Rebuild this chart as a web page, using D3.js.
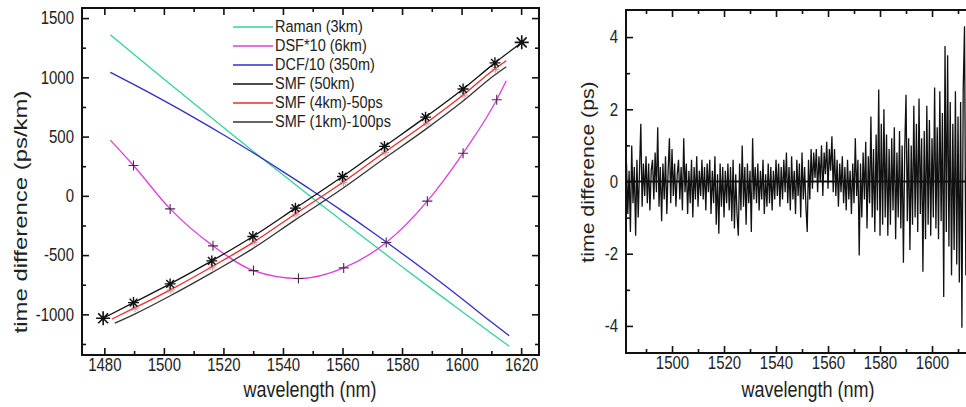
<!DOCTYPE html>
<html>
<head>
<meta charset="utf-8">
<script src="https://cdn.jsdelivr.net/npm/d3@7"></script>
<style>
  body { margin: 0; background: #fff; }
  svg { display: block; font-family: Arial, "Liberation Sans", sans-serif; }
</style>
</head>
<body>
<svg id="chart" width="966" height="407"></svg>
<script>
// ---- left panel data ----
var ramanWl = [1482, 1490, 1500, 1510, 1520, 1530, 1540, 1550, 1560, 1570, 1580, 1590, 1600, 1610, 1616];
var raman   = [1360, 1193, 986, 781, 578, 376, 177, -20, -214, -407, -598, -787, -974, -1159, -1269];

var dcfWl = [1482, 1490, 1500, 1510, 1520, 1530, 1540, 1550, 1560, 1570, 1580, 1590, 1600, 1610, 1616];
var dcf   = [1042, 938, 803, 662, 515, 363, 204, 41, -129, -305, -486, -673, -866, -1065, -1180];

var dsfWl = [1482, 1489.8, 1502.1, 1516.5, 1530.1, 1545.2, 1560.4, 1574.7, 1588.5, 1600.5, 1611.8, 1615];
var dsf   = [470, 256, -110, -422, -631, -698, -608, -394, -45, 360, 811, 971];
var dsfMarkWl = [1489.8, 1502.1, 1516.5, 1530.1, 1545.2, 1560.4, 1574.7, 1588.5, 1600.5, 1611.8];
var dsfMark   = [256, -110, -422, -631, -698, -608, -394, -45, 360, 811];

var smf50Wl = [1479.6, 1489.8, 1502.1, 1516.1, 1529.9, 1544.2, 1560.0, 1574.1, 1587.9, 1600.5, 1611.2, 1620.2];
var smf50   = [-1033, -901, -743, -549, -343, -104, 163, 417, 664, 901, 1122, 1295];

var smf4Wl = [1482.5, 1490, 1502, 1516, 1530, 1544, 1560, 1574, 1588, 1600.5, 1611, 1615];
var smf4   = [-1040, -948, -795, -600, -393, -155, 112, 365, 613, 850, 1068, 1140];

var smf1Wl = [1483.5, 1490, 1502, 1516, 1530, 1544, 1560, 1574, 1588, 1600.5, 1611, 1615];
var smf1   = [-1075, -1000, -845, -650, -443, -205, 62, 315, 563, 800, 1018, 1090];

var legendNames  = ['Raman (3km)', 'DSF*10 (6km)', 'DCF/10 (350m)', 'SMF (50km)', 'SMF (4km)-50ps', 'SMF (1km)-100ps'];
var legendColors = ['#35d29a', '#dd3fdd', '#2f2fcc', '#111', '#ee2b2b', '#333'];

var leftXTicks = [1480, 1500, 1520, 1540, 1560, 1580, 1600, 1620];
var leftYTicks = [-1000, -500, 0, 500, 1000, 1500];

// ---- right panel data: residual trace, every 0.5 nm from 1482.5 nm ----
var resStart = 1482.5, resStep = 0.5;
var residual = [
  0.5, -0.9, 0.3, -1.4, 1.0, -0.6, 0.4, -1.5, 0.6, -1.0, 0.3, 1.6, -0.7, 0.5, -0.4, 0.7, -0.6, 0.5, -0.8, 0.3,
  0.6, -0.5, 0.8, -0.3, 1.5, -0.7, 0.4, -1.1, 0.5, -0.5, 0.7, -0.9, 0.3, 1.2, -0.6, 0.9, -0.4, 0.5, -0.7, 0.2,
  0.6, -0.5, 0.4, -0.8, 1.2, -0.3, 0.5, -0.9, 0.3, -0.6, 0.6, -1.0, 0.4, -0.5, 0.7, -0.7, 0.3, -0.4, 0.6, -0.5,
  0.4, -0.8, 0.5, -0.3, 0.6, -0.9, 0.3, -0.6, 0.7, -1.2, 0.2, -1.45, 0.5, -0.7, 0.4, -1.0, 0.3, -0.6, 0.5, -0.8,
  0.4, -1.1, 0.6, -1.3, 0.2, -0.9, -1.5, 0.5, -0.8, 1.0, -0.7, 0.4, -1.2, 0.5, -0.6, 0.3, -1.4, 1.2, -0.5, 0.4,
  -0.6, 0.5, -0.8, 0.3, -0.5, 0.6, -0.9, 0.2, -0.7, 0.5, -0.6, 0.4, -0.8, 0.3, -0.5, 0.6, -0.4, 0.5, -0.7, 0.4,
  -0.5, 0.6, -0.3, 0.8, -0.6, 0.4, -0.8, 0.7, -0.5, 0.3, -0.9, 0.6, -0.4, 0.5, -1.0, 0.8, -0.5, 0.4, -0.7, -1.4,
  0.6, -0.5, 0.9, -0.2, 0.8, 0.1, 0.9, -0.3, 0.7, 0.0, 1.0, -0.4, 0.8, 0.2, 1.1, -0.2, 0.9, 0.3, 1.25, -0.3,
  0.9, -0.4, 0.6, -0.7, 0.5, -0.3, 0.7, -0.6, 0.4, -0.8, 0.6, -0.5, 0.3, -0.9, 0.5, -0.6, 1.2, -0.4, 0.6, -2.05,
  0.5, -1.0, 0.8, -0.5, 1.1, -1.3, 0.7, -0.6, 1.8, -1.0, 0.9, -1.4, 1.3, -0.8, 2.55, -1.5, 1.6, -1.2, 2.0, -1.0,
  1.3, -1.5, 0.9, -1.2, 1.2, -0.8, 1.5, -1.6, 0.8, -1.0, 1.4, -1.3, 1.0, -2.25, 0.9, 2.4, -1.1, 1.2, -1.9, 1.0,
  -1.2, 2.1, -1.0, 1.6, -1.4, 2.3, -0.9, 1.2, -2.5, 1.4, -1.6, 2.1, -1.2, 1.7, -1.5, 1.2, -1.0, 2.6, -1.3, 1.5,
  -1.6, 2.5, -1.1, 1.9, -3.2, 3.75, -1.4, 3.5, -1.8, 2.2, -2.6, 1.6, -1.9, 2.5, -2.3, 1.8, -2.8, 2.2, -4.05, 2.55,
  4.3, -2.6, 2.0, -2.2, 1.5
];
var rightXTicks = [1500, 1520, 1540, 1560, 1580, 1600];
var rightYTicks = [-4, -2, 0, 2, 4];

// the source figure is stretched vertically, so text is too
var TEXT_STRETCH = 1.2;

// ---- drawing ----
var svg = d3.select('#chart');
var defs = svg.append('defs');

function zip(xs, ys) {
    return xs.map(function(x, i) { return [x, ys[i]]; });
}

// asterisk / plus marker paths
function starPath(cx, cy, r) {
    var d = r * 0.707;
    return 'M' + (cx - r) + ',' + cy + 'H' + (cx + r) +
           'M' + cx + ',' + (cy - r) + 'V' + (cy + r) +
           'M' + (cx - d) + ',' + (cy - d) + 'L' + (cx + d) + ',' + (cy + d) +
           'M' + (cx - d) + ',' + (cy + d) + 'L' + (cx + d) + ',' + (cy - d);
}
function plusPath(cx, cy, r) {
    return 'M' + (cx - r) + ',' + cy + 'H' + (cx + r) + 'M' + cx + ',' + (cy - r) + 'V' + (cy + r);
}

var fmt = function(d) { return String(d); };

function drawFrame(g, x, y, xMajor, yMajor, xMinorStep, yMinorStep, showRight) {
    var x0 = x.range()[0], x1 = x.range()[1];
    var y0 = y.range()[1], y1 = y.range()[0];
    var xd = x.domain(), yd = y.domain();
    var xMinor = d3.range(Math.ceil(xd[0] / xMinorStep) * xMinorStep, xd[1], xMinorStep)
        .filter(function(v) { return xMajor.indexOf(v) < 0; });
    var yMinor = d3.range(Math.ceil(yd[0] / yMinorStep) * yMinorStep, yd[1], yMinorStep)
        .filter(function(v) { return yMajor.indexOf(v) < 0; });

    var ax = g.append('g').attr('class', 'axes');
    // bottom
    ax.append('g').attr('transform', 'translate(0,' + y1 + ')')
        .call(d3.axisBottom(x).tickValues(xMajor).tickSizeInner(-7).tickSizeOuter(0).tickPadding(3)
            .tickFormat(fmt));
    ax.append('g').attr('transform', 'translate(0,' + y1 + ')')
        .call(d3.axisBottom(x).tickValues(xMinor).tickSizeInner(-4).tickSizeOuter(0).tickFormat(''));
    // left
    ax.append('g').attr('transform', 'translate(' + x0 + ',0)')
        .call(d3.axisLeft(y).tickValues(yMajor).tickSizeInner(-7).tickSizeOuter(0).tickPadding(8)
            .tickFormat(fmt));
    ax.append('g').attr('transform', 'translate(' + x0 + ',0)')
        .call(d3.axisLeft(y).tickValues(yMinor).tickSizeInner(-4).tickSizeOuter(0).tickFormat(''));
    // top
    ax.append('g').attr('transform', 'translate(0,' + y0 + ')')
        .call(d3.axisTop(x).tickValues(xMajor).tickSizeInner(-7).tickSizeOuter(0).tickFormat(''));
    ax.append('g').attr('transform', 'translate(0,' + y0 + ')')
        .call(d3.axisTop(x).tickValues(xMinor).tickSizeInner(-4).tickSizeOuter(0).tickFormat(''));
    if (showRight) {
        ax.append('g').attr('transform', 'translate(' + x1 + ',0)')
            .call(d3.axisRight(y).tickValues(yMajor).tickSizeInner(-7).tickSizeOuter(0).tickFormat(''));
        ax.append('g').attr('transform', 'translate(' + x1 + ',0)')
            .call(d3.axisRight(y).tickValues(yMinor).tickSizeInner(-4).tickSizeOuter(0).tickFormat(''));
    }
    ax.selectAll('.domain').remove();
    ax.selectAll('.tick line').attr('stroke', '#111').attr('stroke-width', 1.6);
    ax.selectAll('.tick text')
        .attr('fill', '#222')
        .style('font-size', '15px')
        .attr('transform', 'scale(1,' + TEXT_STRETCH + ')');

    g.append('rect')
        .attr('x', x0).attr('y', y0)
        .attr('width', x1 - x0).attr('height', y1 - y0)
        .attr('fill', 'none').attr('stroke', '#111').attr('stroke-width', 2);
}

function xTitle(g, x, y, txt) {
    g.append('text')
        .attr('transform', 'translate(' + x + ',' + y + ') scale(1,' + TEXT_STRETCH + ')')
        .attr('text-anchor', 'middle')
        .style('font-size', '18px').attr('fill', '#222')
        .text(txt);
}
function yTitle(g, x, y, stretch, txt) {
    g.append('text')
        .attr('transform', 'translate(' + x + ',' + y + ') scale(1,' + stretch + ') rotate(-90)')
        .attr('text-anchor', 'middle')
        .style('font-size', '18px').attr('fill', '#222')
        .text(txt);
}

// ===== left panel =====
var xL = d3.scaleLinear().domain([1472.5, 1626]).range([82, 539]);
var yL = d3.scaleLinear().domain([-1343, 1585]).range([355, 8]);

defs.append('clipPath').attr('id', 'clipL').append('rect')
    .attr('x', 82).attr('y', 8).attr('width', 457).attr('height', 347);

var left = svg.append('g');
var plotL = left.append('g').attr('clip-path', 'url(#clipL)');

var lineL = d3.line()
    .x(function(d) { return xL(d[0]); })
    .y(function(d) { return yL(d[1]); })
    .curve(d3.curveMonotoneX);

var curves = [
    { pts: zip(ramanWl, raman), color: legendColors[0] },
    { pts: zip(dcfWl, dcf), color: legendColors[2] },
    { pts: zip(dsfWl, dsf), color: legendColors[1] },
    { pts: zip(smf1Wl, smf1), color: legendColors[5] },
    { pts: zip(smf4Wl, smf4), color: legendColors[4] },
    { pts: zip(smf50Wl, smf50), color: legendColors[3] }
];
plotL.selectAll('path.curve')
    .data(curves)
    .enter()
    .append('path')
    .attr('class', 'curve')
    .attr('d', function(d) { return lineL(d.pts); })
    .attr('fill', 'none')
    .attr('stroke', function(d) { return d.color; })
    .attr('stroke-width', 1.3);

// DSF plus markers
plotL.selectAll('path.plus')
    .data(zip(dsfMarkWl, dsfMark))
    .enter()
    .append('path')
    .attr('class', 'plus')
    .attr('d', function(d) { return plusPath(xL(d[0]), yL(d[1]), 5); })
    .attr('stroke', '#4a2a4a')
    .attr('stroke-width', 1.1);

// faint markers on the red curve
plotL.selectAll('path.redmark')
    .data(zip(smf4Wl.slice(1, 11), smf4.slice(1, 11)))
    .enter()
    .append('path')
    .attr('class', 'redmark')
    .attr('d', function(d) { return starPath(xL(d[0]) + 1, yL(d[1]), 4); })
    .attr('stroke', '#c98080')
    .attr('stroke-width', 0.8);

// SMF asterisks
plotL.selectAll('path.star')
    .data(zip(smf50Wl, smf50))
    .enter()
    .append('path')
    .attr('class', 'star')
    .attr('d', function(d, i) {
        var big = (i === 0 || i === smf50Wl.length - 1);
        return starPath(xL(d[0]), yL(d[1]), big ? 7 : 5.5);
    })
    .attr('stroke', '#111')
    .attr('stroke-width', function(d, i) { return (i === 0 || i === smf50Wl.length - 1) ? 1.6 : 1.4; });

drawFrame(left, xL, yL, leftXTicks, leftYTicks, 10, 250, true);

// legend
var legend = left.append('g').attr('transform', 'translate(233,27)');
var legendRow = legend.selectAll('g')
    .data(legendNames)
    .enter()
    .append('g')
    .attr('transform', function(d, i) { return 'translate(0,' + (i * 19) + ')'; });
legendRow.append('line')
    .attr('x1', 0).attr('x2', 40).attr('y1', 0).attr('y2', 0)
    .attr('stroke', function(d, i) { return legendColors[i]; })
    .attr('stroke-width', 1.5);
legendRow.append('text')
    .attr('transform', 'translate(42,5) scale(1,' + TEXT_STRETCH + ')')
    .style('font-size', '14.5px')
    .attr('fill', '#222')
    .text(function(d) { return d; });

xTitle(left, 310, 397, 'wavelength (nm)');
yTitle(left, 27, 212, 1.33, 'time difference (ps/km)');

// ===== right panel =====
var xR = d3.scaleLinear().domain([1482.3, 1622.3]).range([626, 990]);
var yR = d3.scaleLinear().domain([-4.75, 4.75]).range([353, 10]);

defs.append('clipPath').attr('id', 'clipR').append('rect')
    .attr('x', 626).attr('y', 10).attr('width', 364).attr('height', 343);

var right = svg.append('g');
var plotR = right.append('g').attr('clip-path', 'url(#clipR)');

var resPts = residual.map(function(v, i) { return [resStart + i * resStep, v]; });
var lineR = d3.line()
    .x(function(d) { return xR(d[0]); })
    .y(function(d) { return yR(d[1]); });

plotR.append('path')
    .attr('d', lineR(resPts))
    .attr('fill', 'none')
    .attr('stroke', '#111')
    .attr('stroke-width', 1.3);

plotR.append('path')
    .attr('d', lineR([[resStart, 0], [resPts[resPts.length - 1][0], 0]]))
    .attr('fill', 'none')
    .attr('stroke', '#111')
    .attr('stroke-width', 2);

drawFrame(right, xR, yR, rightXTicks, rightYTicks, 10, 1, false);

xTitle(right, 808, 397, 'wavelength (nm)');
yTitle(right, 594, 172, 1.18, 'time difference (ps)');
</script>
</body>
</html>
